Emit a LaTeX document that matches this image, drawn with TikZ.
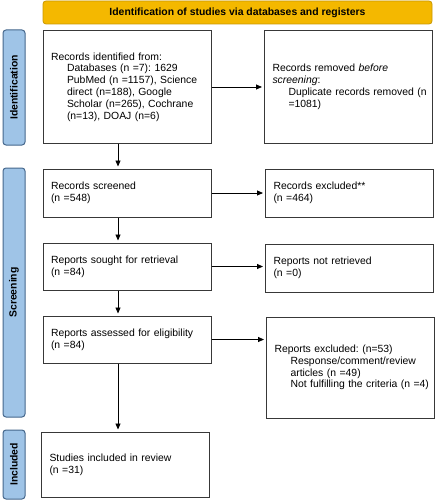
\documentclass[tikz,border=0pt]{standalone}
\usepackage{fontspec}
\setmainfont{Liberation Sans}
\usepackage{xcolor}
\usetikzlibrary{arrows.meta}
\definecolor{headfill}{HTML}{F4B800}
\definecolor{headline}{HTML}{C99700}
\definecolor{tabfill}{HTML}{9FC4E7}
\definecolor{tabline}{HTML}{45678C}
\definecolor{boxline}{HTML}{383838}
\newcommand*{\ind}{\hspace*{16pt}}
\frenchspacing

\begin{document}
\begin{tikzpicture}[x=1pt,y=-1pt,
    every node/.style={font=\frenchspacing\fontsize{10.4}{11.8}\selectfont},
    head/.style={draw=headline,fill=headfill,line width=0.8pt,rounded corners=3pt,
      font=\bfseries\fontsize{10.4}{12}\selectfont},
    tab/.style={draw=tabline,fill=tabfill,line width=1pt,rounded corners=3pt,rotate=90,
      minimum height=22pt,inner sep=0pt,font=\bfseries\fontsize{10.4}{12}\selectfont},
    box/.style={draw=boxline,line width=1pt,fill=white,text width=152pt,align=left,
      inner sep=8pt,minimum width=168pt},
    arr/.style={-{Triangle[length=6pt,width=5pt]},line width=0.8pt,shorten >=2pt}]
    \useasboundingbox (0,0) rectangle (436,500);

    \node [head,minimum width=389pt,minimum height=23pt] (head) at (237.5,12.5)
      {Identification of studies via databases and registers};

    \node [tab,minimum width=115pt] (tabId) at (14,87.5) {Identification};
    \node [tab,minimum width=249pt] (tabScr) at (14,292.5) {Screening};
    \node [tab,minimum width=69pt] (tabInc) at (14,464.5) {Included};

    \node [box,minimum height=112pt] (ident) at (127,87)
      {Records identified from:\\ \ind Databases (n =7): 1629\\ \ind \mbox{PubMed (n =1157), Science}\\
       \ind direct (n=188), Google\\ \ind \mbox{Scholar (n=265), Cochrane}\\ \ind (n=13), DOAJ (n=6)};
    \node [box,minimum height=112pt] (removed) at (348.5,87)
      {Records removed \textit{before}\\ \textit{screening}:\\ \ind \mbox{Duplicate records removed (n}\\ \ind =1081)\\[10pt]};

    \node [box,minimum height=48pt] (screened) at (127,193) {Records screened\\ (n =548)};
    \node [box,minimum height=48pt] (excluded) at (349.5,193) {Records excluded**\\ (n =464)};

    \node [box,minimum height=47pt] (sought) at (127,266.5) {Reports sought for retrieval\\ (n =84)};
    \node [box,minimum height=48pt] (notret) at (349.5,268) {Reports not retrieved\\ (n =0)};

    \node [box,minimum height=47pt] (assessed) at (127,339.5) {\mbox{Reports assessed for eligibility}\\ (n =84)};
    \node [box,minimum height=101pt] (repexcl) at (350.5,367.5)
      {Reports excluded: (n=53)\\ \ind Response/comment/review\\ \ind articles (n =49)\\
       \ind \mbox{Not fulfilling the criteria (n =4)}\\[10pt]};

    \node [box,minimum height=65pt] (included) at (125.5,464.5) {Studies included in review\\ (n =31)\\[8pt]};

    \coordinate (down) at (118,0);
    \foreach \a/\b in {ident/screened,screened/sought,sought/assessed,assessed/included} {
      \draw [arr] (\a.south -| down) -- (\b.north -| down);
    }
    \foreach \a/\b in {ident/removed,screened/excluded,sought/notret,assessed/repexcl} {
      \draw [arr] (\a.east) -- (\a.east -| \b.west);
    }
  \end{tikzpicture}
\end{document}
